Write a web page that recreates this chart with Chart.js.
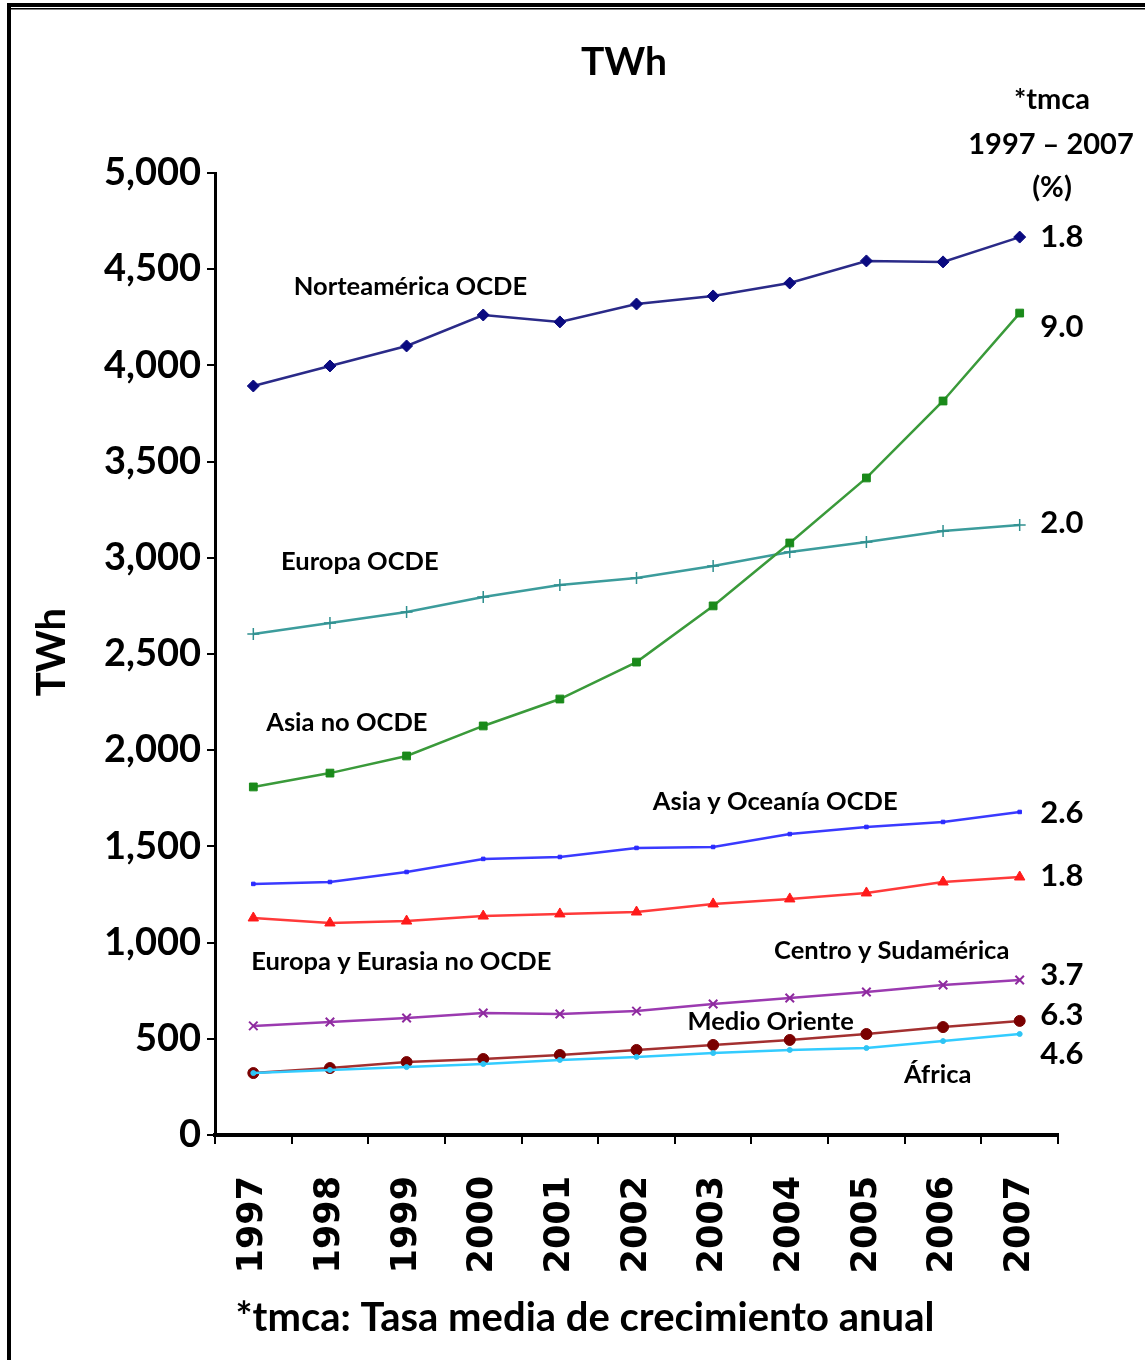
<!DOCTYPE html>
<html>
<head>
<meta charset="utf-8">
<script src="https://cdn.jsdelivr.net/npm/chart.js@4"></script>
<style>
  html, body { margin: 0; padding: 0; background: #fff; }
  #wrap { width: 1145px; height: 1360px; position: relative; }
</style>
</head>
<body>
<div id="wrap"><canvas id="c" width="1145" height="1360"></canvas></div>
<script>
// ---- Data ----
const years = ['1997','1998','1999','2000','2001','2002','2003','2004','2005','2006','2007'];
const yTicks = [0,500,1000,1500,2000,2500,3000,3500,4000,4500,5000];

const norteamericaOCDE = [3893,3997,4101,4262,4226,4319,4361,4428,4543,4538,4667];
const asiaNoOCDE       = [1809,1881,1970,2126,2266,2458,2750,3077,3415,3815,4272];
const europaOCDE       = [2604,2661,2718,2796,2859,2895,2957,3030,3082,3139,3170];
const asiaOceaniaOCDE  = [1305,1315,1367,1435,1445,1492,1497,1564,1601,1627,1679];
const europaEurasiaNo  = [1128,1102,1112,1138,1149,1159,1201,1227,1258,1315,1341];
const centroSudamerica = [567,587,608,634,629,644,681,712,743,780,806];
const medioOriente     = [322,348,379,395,416,442,468,494,525,561,593];
const africa           = [322,338,353,369,390,406,426,442,452,488,525];

const seriesNames = ['Norteamérica OCDE','Europa OCDE','Asia no OCDE','Asia y Oceanía OCDE',
  'Europa y Eurasia no OCDE','Centro y Sudamérica','Medio Oriente','África'];
// label anchor: category index (fractional) and value
const nameIdx = [2.05,1.39,1.22,6.81,1.93,8.33,6.75,8.93];
const nameVal = [4407,2978,2141,1731,898,956,587,312];

const tmcaText = ['1.8','9.0','2.0','2.6','1.8','3.7','6.3','4.6'];
const tmcaVal  = [4667,4200,3181,1674,1346,832,624,421];
const tmcaIdx  = 10.55;

const titleText = 'TWh';
const yTitleText = 'TWh';
const headerLines = ['*tmca','1997 – 2007','(%)'];
const footerText = '*tmca: Tasa media de crecimiento anual';

const FONT = 'Lato, "Open Sans", sans-serif';

const textPlugin = {
  id: 'texts',
  afterDraw(chart) {
    const ctx = chart.ctx;
    const xs = chart.scales.x, ys = chart.scales.y;
    const xAt = (i) => {
      const a = xs.getPixelForValue(0), b = xs.getPixelForValue(1);
      return a + (b - a) * i;
    };
    ctx.save();
    ctx.fillStyle = '#000';
    ctx.textAlign = 'center';
    ctx.textBaseline = 'middle';
    // series names
    ctx.font = 'bold 25.5px ' + FONT;
    seriesNames.forEach((s, k) => {
      ctx.fillText(s, xAt(nameIdx[k]), ys.getPixelForValue(nameVal[k]));
    });
    // tmca values
    ctx.font = 'bold 31px ' + FONT;
    tmcaText.forEach((s, k) => {
      ctx.fillText(s, xAt(tmcaIdx), ys.getPixelForValue(tmcaVal[k]));
    });
    // title
    ctx.font = 'bold 39px ' + FONT;
    ctx.fillText(titleText, 624, 62);
    // header right
    ctx.font = 'bold 29px ' + FONT;
    ctx.fillText(headerLines[0], 1052, 100);
    ctx.fillText(headerLines[1], 1051, 145);
    ctx.fillText(headerLines[2], 1052, 188);
    // footer
    ctx.font = 'bold 40px ' + FONT;
    ctx.fillText(footerText, 585, 1318);
    // y title
    ctx.save();
    ctx.translate(52, 652);
    ctx.rotate(-Math.PI / 2);
    ctx.font = 'bold 40px ' + FONT;
    ctx.fillText(yTitleText, 0, 0);
    ctx.restore();
    // frame
    ctx.fillStyle = '#000';
    ctx.fillRect(7, 3, 1138, 4);
    ctx.fillRect(7, 8, 1138, 1.5);
    ctx.fillRect(7, 3, 4, 1357);
    ctx.restore();
  }
};

function ds(label, data, color, style, radius, bw, lineColor) {
  return {
    label, data,
    borderColor: lineColor || color,
    backgroundColor: color,
    pointBackgroundColor: color,
    pointBorderColor: color,
    pointStyle: style,
    pointRadius: radius,
    pointBorderWidth: bw,
    borderWidth: 2.5,
    tension: 0,
    fill: false
  };
}

new Chart(document.getElementById('c'), {
  type: 'line',
  data: {
    labels: years,
    datasets: [
      ds('Norteamérica OCDE', norteamericaOCDE, '#0a0a80', 'rectRot', 6, 1, '#2a2a88'),
      ds('Asia no OCDE', asiaNoOCDE, '#1a8a1a', 'rect', 5.5, 1, '#3a9a3a'),
      ds('Europa OCDE', europaOCDE, '#2f8f8f', 'cross', 6, 1.5, '#3c9c9c'),
      ds('Asia y Oceanía OCDE', asiaOceaniaOCDE, '#2a2aff', 'rect', 2.5, 1, '#3a3aff'),
      ds('Europa y Eurasia no OCDE', europaEurasiaNo, '#ff1a1a', 'triangle', 6, 1, '#ff3a3a'),
      ds('Centro y Sudamérica', centroSudamerica, '#8e2a9e', 'crossRot', 6, 2, '#9b3ab0'),
      ds('África', africa, '#2ec4f4', 'circle', 2.5, 1, '#33ccff'),
      ds('Medio Oriente', medioOriente, '#7a0000', 'circle', 5.5, 1, '#a33030')
    ]
  },
  options: {
    responsive: false,
    animation: false,
    layout: { padding: { top: 173, right: 87, left: 0, bottom: 0 } },
    plugins: { legend: { display: false }, tooltip: { enabled: false }, title: { display: false } },
    scales: {
      x: {
        offset: true,
        grid: { offset: true, drawOnChartArea: false, drawTicks: true, tickLength: 9, color: '#000', lineWidth: 2 },
        border: { display: true, color: '#000', width: 4 },
        ticks: {
          color: '#000', minRotation: 90, maxRotation: 90, padding: 32,
          font: { family: '"DejaVu Sans", sans-serif', weight: 'bold', size: 35 }
        },
        afterFit(scale) { scale.height = 225; }
      },
      y: {
        min: 0, max: 5000,
        afterBuildTicks(scale) { scale.ticks = yTicks.map(v => ({ value: v })); },
        grid: { drawOnChartArea: false, drawTicks: true, tickLength: 8, color: '#000', lineWidth: 2 },
        border: { display: true, color: '#000', width: 3 },
        ticks: {
          color: '#000', padding: 6,
          font: { family: FONT, weight: 'bold', size: 38 },
          callback: (v) => v.toLocaleString('en-US')
        },
        afterFit(scale) { scale.width = 215; }
      }
    }
  },
  plugins: [textPlugin]
});
</script>
</body>
</html>
